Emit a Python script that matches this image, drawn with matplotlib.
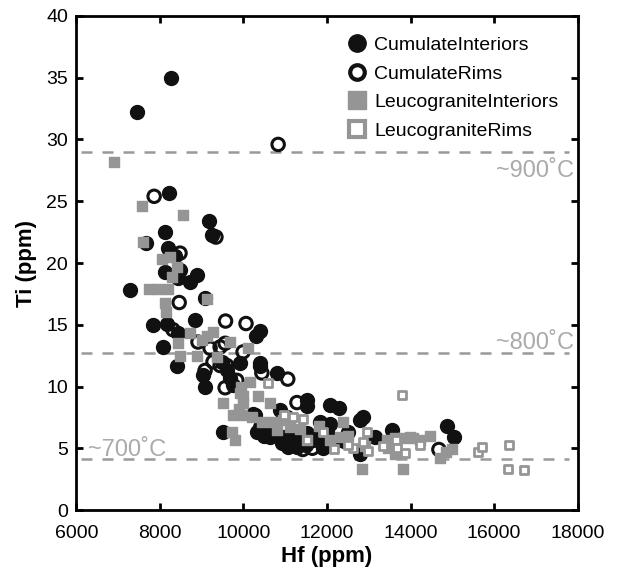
import matplotlib
matplotlib.use("Agg")
import matplotlib.pyplot as plt
from matplotlib.lines import Line2D

plt.rcParams["font.family"] = ["Liberation Sans", "DejaVu Sans"]

# Cumulate interiors (filled black circles)
ci_hf = [8260, 7450, 8215, 9180, 8120, 9245, 7665, 8190, 8360, 8120, 8480, 8430,
         8720, 8890, 7280, 9080, 7830, 8170, 8840, 10400, 10300, 8430, 8070, 8400,
         9480, 9920, 10400, 9030, 9080, 9680, 9750, 10800, 9510, 10230, 10400,
         10950, 11190, 11520, 12070, 12290, 11830, 12070, 12860, 12790, 13150,
         13550, 14870, 15040, 12790, 10870, 11040, 10640, 10920, 11060, 11280,
         11350, 11660, 11520, 10320, 10270, 11520, 10400, 9600, 11500, 11800,
         12000, 12200, 11900, 12500, 12400, 10500, 10700, 11200]
ci_ti = [35.0, 32.2, 25.7, 23.4, 22.5, 22.3, 21.6, 21.2, 20.6, 19.3, 19.4, 18.8,
         18.5, 19.0, 17.8, 17.2, 15.0, 15.1, 15.4, 14.5, 14.1, 14.3, 13.2, 11.7,
         12.0, 11.9, 11.9, 10.9, 10.0, 10.7, 10.1, 11.1, 6.3, 7.8, 6.7,
         5.9, 5.4, 8.4, 8.5, 8.3, 7.1, 7.0, 7.5, 7.3, 5.9,
         6.5, 6.8, 5.9, 4.5, 8.1, 7.5, 5.9, 5.4, 5.1, 5.1,
         6.1, 5.7, 6.2, 6.3, 7.7, 8.9, 11.7, 11.3, 5.3, 6.0,
         6.3, 5.6, 5.0, 6.3, 5.6, 6.0, 6.6, 5.8]

# Cumulate rims (open black circles)
cr_hf = [10830, 7860, 9340, 8480, 8460, 9570, 10060, 8310, 8910, 9200, 9440,
         9560, 9990, 9440, 9270, 9080, 9560, 9840, 10440, 11060, 11280, 9600,
         14680, 11420, 11650, 12000]
cr_ti = [29.6, 25.4, 22.1, 20.8, 16.8, 15.3, 15.1, 14.6, 13.6, 13.1, 13.2,
         13.5, 12.8, 11.7, 12.0, 11.3, 9.9, 10.5, 11.1, 10.6, 8.7, 11.7,
         4.9, 4.9, 5.0, 5.2]

# Leucogranite interiors (filled grey squares)
li_hf = [6900, 7570, 8550, 7590, 8050, 8240, 8400, 8290, 7740, 7950, 8190, 9130,
         8120, 8140, 8720, 8430, 9010, 9130, 9270, 9680, 10110, 8880, 9360, 8480,
         10150, 9510, 9920, 9990, 10350, 10640, 9720, 9800, 9750, 9960, 10440,
         10680, 10950, 11110, 11350, 11520, 12390, 12070, 12310, 12830, 13820,
         14700, 14990, 14850, 14220, 14460, 13980, 13820, 13630, 13430, 13460,
         13630, 14060, 9950, 9900, 10200, 10800, 11800, 12500, 12900, 10000]
li_ti = [28.2, 24.6, 23.9, 21.7, 20.3, 20.5, 19.7, 18.9, 17.9, 17.9, 17.9, 17.1,
         16.8, 16.0, 14.3, 13.5, 13.8, 14.1, 14.4, 13.6, 13.1, 12.5, 12.4, 12.5,
         10.4, 8.7, 9.5, 8.7, 9.2, 8.7, 6.3, 5.7, 7.7, 7.7, 7.1,
         7.1, 7.3, 6.7, 6.6, 5.7, 7.1, 5.7, 5.9, 3.3, 3.3,
         4.2, 4.9, 4.7, 5.7, 6.0, 5.9, 5.8, 5.8, 5.7, 5.0,
         4.5, 5.8, 10.0, 8.2, 7.5, 6.5, 6.8, 6.0, 5.2, 9.2]

# Leucogranite rims (open grey squares)
lr_hf = [10590, 13800, 12160, 12620, 12960, 12870, 12980, 13340, 13650, 13680,
         13870, 14230, 15620, 15710, 16360, 16330, 16720, 11180, 11420, 10970,
         11520, 12500, 11900]
lr_ti = [10.3, 9.3, 4.9, 5.0, 6.3, 5.5, 4.8, 5.2, 5.7, 5.0,
         4.6, 5.3, 4.7, 5.1, 5.3, 3.3, 3.2, 7.5, 7.4, 7.7,
         5.7, 5.3, 6.3]

# temperature guide lines
temps = ["~900˚C", "~800˚C", "~700˚C"]
temp_ti = [29.0, 12.7, 4.1]

BLACK, GREY = "#111111", "#959595"

fig = plt.figure(figsize=(6.28, 5.71), dpi=100)
ax = fig.add_axes([0.1218, 0.1068, 0.7978, 0.8652])

for t in temp_ti:
    ax.plot([6100, 17800], [t, t], color="#999999", lw=1.8, dashes=(4.4, 4.0), zorder=1)

ax.scatter(ci_hf, ci_ti, s=100, marker="o", color=BLACK, zorder=2)
ax.scatter(cr_hf, cr_ti, s=80, marker="o", facecolor="none", edgecolor=BLACK,
           linewidths=2.2, zorder=3)
ax.scatter(li_hf, li_ti, s=52, marker="s", color=GREY, zorder=4)
ax.scatter(lr_hf, lr_ti, s=40, marker="s", facecolor="white", edgecolor=GREY,
           linewidths=2.0, zorder=5)

tc = "#aaaaaa"
ax.text(17920, 28.3, temps[0], color=tc, fontsize=17, ha="right", va="top")
ax.text(17920, 12.6, temps[1], color=tc, fontsize=17, ha="right", va="bottom")
ax.text(6280, 4.0, temps[2], color=tc, fontsize=17, ha="left", va="bottom")

ax.set_xlim(6000, 18000)
ax.set_ylim(0, 40)
ax.set_xticks(range(6000, 18001, 2000))
ax.set_yticks(range(0, 41, 5))
ax.tick_params(direction="in", top=True, right=True, length=5, width=2,
               labelsize=14)
ax.tick_params(axis="x", pad=11)
ax.tick_params(axis="y", pad=6)
for sp in ax.spines.values():
    sp.set_linewidth(2)
ax.set_xlabel("Hf (ppm)", fontsize=16, fontweight="bold", labelpad=3)
ax.set_ylabel("Ti (ppm)", fontsize=16, fontweight="bold", labelpad=7)

handles = [
    Line2D([], [], ls="none", marker="o", ms=12.5, color=BLACK),
    Line2D([], [], ls="none", marker="o", ms=10.5, mfc="white", mec=BLACK, mew=3),
    Line2D([], [], ls="none", marker="s", ms=13, color=GREY),
    Line2D([], [], ls="none", marker="s", ms=11, mfc="white", mec=GREY, mew=3),
]
labels = ["CumulateInteriors", "CumulateRims", "LeucograniteInteriors",
          "LeucograniteRims"]
ax.legend(handles, labels, loc="upper right", bbox_to_anchor=(0.978, 0.974),
          frameon=False, fontsize=14, handlelength=1.0, handletextpad=0.4,
          labelspacing=0.56, borderaxespad=0.0)

fig.savefig("out.png", dpi=100)
